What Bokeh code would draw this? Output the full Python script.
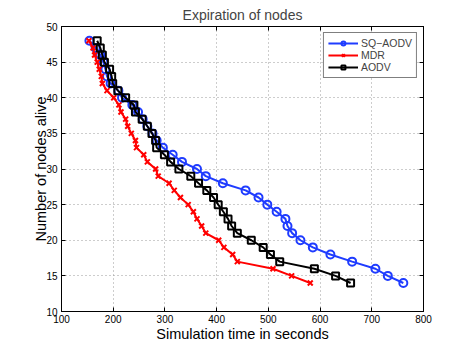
from bokeh.plotting import figure
from bokeh.models import LinearAxis, Range1d, FixedTicker
from bokeh.embed import file_html
from bokeh.resources import INLINE

nodes_alive = [48, 47, 46, 45, 44, 43, 42, 41, 40, 39, 38, 37, 36, 35, 34, 33, 32, 31,
               30, 29, 28, 27, 26, 25, 24, 23, 22, 21, 20, 19, 18, 17, 16, 15, 14]
sq_aodv_time = [154, 166, 175, 181, 185, 188, 195, 210, 217, 237, 248, 257, 266, 276, 284,
                296, 315, 333, 362, 379, 412, 456, 481, 498, 516, 533, 537, 546, 562, 586,
                620, 662, 707, 731, 761]
mdr_time = [153, 161, 164, 169, 173, 177, 179, 188, 201, 211, 215, 224, 228, 235, 243,
            245, 259, 266, 282, 287, 308, 318, 330, 345, 355, 362, 371, 379, 404, 414,
            431, 440, 509, 545, 581]
aodv_time = [169, 175, 179, 183, 193, 197, 199, 209, 224, 240, 243, 256, 266, 275, 282,
             284, 299, 311, 327, 350, 365, 381, 394, 403, 413, 422, 429, 440, 467, 490,
             504, 522, 589, 630, 659]
x_ticks = [100, 200, 300, 400, 500, 600, 700, 800]
y_ticks = [10, 15, 20, 25, 30, 35, 40, 45, 50]

FONT = "Liberation Sans"

p = figure(width=467, height=351, output_backend="svg", toolbar_location=None,
           x_range=Range1d(100, 800), y_range=Range1d(10, 50),
           min_border_left=61, min_border_right=44, min_border_top=26,
           min_border_bottom=40, title="Expiration of nodes")

p.title.align = "center"
p.title.text_font = FONT
p.title.text_font_size = "14px"
p.title.text_font_style = "normal"
p.title.standoff = 7
p.title.offset = 0

p.outline_line_color = "black"
p.outline_line_width = 1
p.background_fill_color = "white"
p.border_fill_color = "white"

for ax, ticks in ((p.xaxis[0], x_ticks), (p.yaxis[0], y_ticks)):
    ax.ticker = FixedTicker(ticks=ticks)
    ax.major_tick_in = 4
    ax.major_tick_out = 0
    ax.minor_tick_line_color = None
    ax.axis_line_color = "black"
    ax.major_tick_line_color = "black"
    ax.major_label_text_font = FONT
    ax.major_label_text_font_size = "10px"
    ax.major_label_text_color = "black"
    ax.axis_label_text_font = FONT
    ax.axis_label_text_font_size = "14.5px"
    ax.axis_label_text_font_style = "normal"
    ax.axis_label_text_color = "black"

p.xaxis[0].axis_label = "Simulation time in seconds"
p.xaxis[0].major_label_standoff = 3
p.xaxis[0].axis_label_standoff = 0
p.yaxis[0].axis_label = "Number of nodes alive"
p.yaxis[0].major_label_standoff = 4
p.yaxis[0].axis_label_standoff = -6

for loc, ticks in (("right", y_ticks), ("above", x_ticks)):
    ax = LinearAxis(ticker=FixedTicker(ticks=ticks))
    ax.major_tick_in = 4
    ax.major_tick_out = 0
    ax.minor_tick_line_color = None
    ax.axis_line_color = "black"
    ax.major_tick_line_color = "black"
    ax.major_label_overrides = {t: "" for t in ticks}
    ax.major_label_standoff = 0
    p.add_layout(ax, loc)

p.xgrid.ticker = FixedTicker(ticks=x_ticks)
p.ygrid.ticker = FixedTicker(ticks=y_ticks)
for g in (p.xgrid[0], p.ygrid[0]):
    g.grid_line_color = "#9a9a9a"
    g.grid_line_dash = "1 3"
    g.grid_line_width = 1

BLUE = "#1f3cff"
RED = "#ff0000"
BLACK = "#000000"

p.line(sq_aodv_time, nodes_alive, line_color=BLUE, line_width=2, legend_label="SQ\u2212AODV")
p.scatter(sq_aodv_time, nodes_alive, marker="circle", size=8, line_color=BLUE,
          fill_color=None, line_width=2, legend_label="SQ\u2212AODV")

p.line(mdr_time, nodes_alive, line_color=RED, line_width=2, legend_label="MDR")
p.scatter(mdr_time, nodes_alive, marker="x", size=7, line_color=RED,
          line_width=2, legend_label="MDR")

p.line(aodv_time, nodes_alive, line_color=BLACK, line_width=2, legend_label="AODV")
p.scatter(aodv_time, nodes_alive, marker="square", size=7, line_color=BLACK,
          fill_color=None, line_width=2, legend_label="AODV")

lg = p.legend[0]
lg.location = "top_right"
lg.margin = 6
lg.padding = 4
lg.spacing = 0
lg.glyph_width = 30
lg.glyph_height = 10
lg.label_height = 10
lg.label_standoff = 3
lg.label_text_font = FONT
lg.label_text_font_size = "10.5px"
lg.border_line_color = "black"
lg.border_line_width = 1
lg.background_fill_color = "white"
lg.background_fill_alpha = 1

open("out.html", "w").write(file_html(p, INLINE))
